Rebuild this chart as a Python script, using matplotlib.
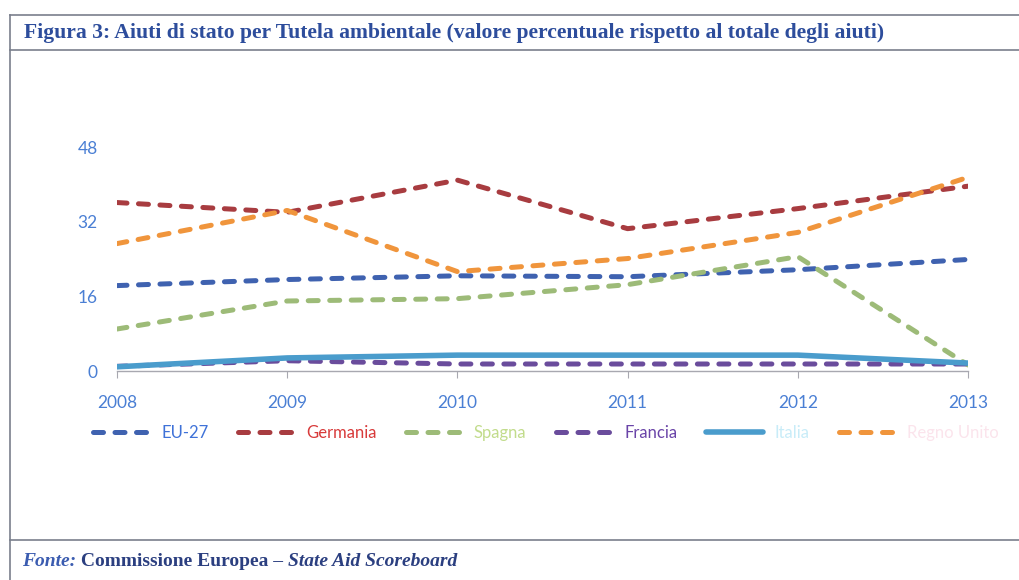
import matplotlib
matplotlib.use("Agg")
import matplotlib.pyplot as plt
from matplotlib.lines import Line2D

years = [2008, 2009, 2010, 2011, 2012, 2013]
eu27 = [18.3, 19.6, 20.4, 20.2, 21.7, 23.9]
germania = [36.1, 34.0, 40.9, 30.5, 34.8, 39.6]
spagna = [9.0, 15.0, 15.5, 18.5, 24.5, 1.3]
francia = [1.0, 2.2, 1.5, 1.5, 1.5, 1.5]
italia = [0.9, 2.8, 3.4, 3.4, 3.4, 1.7]
regno_unito = [27.3, 34.4, 21.3, 24.1, 29.7, 41.5]
yticks = [0, 16, 32, 48]

series_names = ["EU-27", "Germania", "Spagna", "Francia", "Italia", "Regno Unito"]
series_vals = [eu27, germania, spagna, francia, italia, regno_unito]
line_colors = ["#3f62b0", "#a83c40", "#9dbb78", "#6a4c9c", "#4a9ccc", "#f0953c"]
text_colors = ["#3f72d8", "#d83a3a", "#c2dc8c", "#6a44a8", "#c8ecf8", "#fbe4ec"]
dashed = [True, True, True, True, False, True]

W, H = 1020, 580
fig = plt.figure(figsize=(W / 100, H / 100), dpi=100)
fig.patch.set_facecolor("white")

def fx(px):
    return px / W

def fy(py):
    return 1 - py / H

# frame lines
border = "#7a7f8c"
fig.add_artist(Line2D([fx(10), 1], [fy(15), fy(15)], color=border, lw=1.2))
fig.add_artist(Line2D([fx(10), 1], [fy(50), fy(50)], color=border, lw=1.2))
fig.add_artist(Line2D([fx(10), 1], [fy(540), fy(540)], color=border, lw=1.2))
fig.add_artist(Line2D([fx(10), fx(10)], [fy(15), 0], color=border, lw=1.2))

# title
fig.text(fx(24), fy(33), "Figura 3: Aiuti di stato per Tutela ambientale (valore percentuale rispetto al totale degli aiuti)",
         family="Liberation Serif", fontweight="bold", fontsize=15.6, color="#2d4d9c",
         ha="left", va="center")

# axes
ax = fig.add_axes([fx(117), fy(371), fx(968) - fx(117), fy(147) - fy(371)])
lw = 3.6
for name, vals, c, d in zip(series_names, series_vals, line_colors, dashed):
    if d:
        ax.plot(years, vals, color=c, lw=lw, dashes=(2.0, 2.3), dash_capstyle="round",
                label=name, solid_capstyle="round")
    else:
        ax.plot(years, vals, color=c, lw=lw + 0.4, solid_capstyle="round", label=name)

ax.set_xlim(years[0], years[-1])
ax.set_ylim(0, 48)
ax.set_yticks(yticks)
ax.set_xticks(years)
for s in ["top", "right", "left"]:
    ax.spines[s].set_visible(False)
ax.spines["bottom"].set_color("#a8a8b0")
ax.spines["bottom"].set_linewidth(1.0)
ax.tick_params(axis="y", length=0, pad=14, labelsize=12.5, labelcolor="#4a7fd4")
ax.tick_params(axis="x", length=5, direction="out", color="#a8a8b0", pad=12,
               labelsize=12.5, labelcolor="#4a7fd4")
for lab in ax.get_xticklabels() + ax.get_yticklabels():
    lab.set_family("Lato")
ax.patch.set_alpha(0)

# legend
leg = ax.legend(loc="upper center", bbox_to_anchor=(0.504, -0.172), ncol=6, frameon=False,
                prop={"family": "Lato", "size": 12}, handlelength=3.4, handletextpad=0.7,
                columnspacing=1.75)
for t, c in zip(leg.get_texts(), text_colors):
    t.set_color(c)

# source line with mixed styles
fig.canvas.draw()
renderer = fig.canvas.get_renderer()
parts = [("Fonte:", "italic", "#3b5cb0"), (" Commissione Europea \u2013 ", "normal", "#2b3f80"),
         ("State Aid Scoreboard", "italic", "#2b3f80")]
x = fx(22)
for txt, style, col in parts:
    t = fig.text(x, fy(562), txt, family="Liberation Serif", fontweight="bold", fontstyle=style,
                 fontsize=14, color=col, ha="left", va="center")
    bb = t.get_window_extent(renderer=renderer)
    x = x + bb.width / W

fig.savefig("out.png", dpi=100, facecolor="white")
